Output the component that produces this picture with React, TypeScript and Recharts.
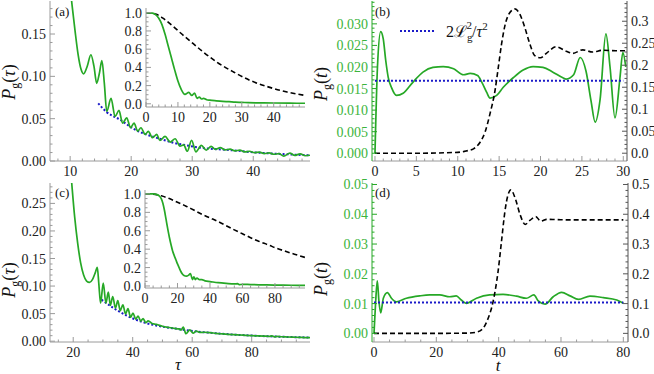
import { LineChart, Line, XAxis, YAxis } from 'recharts';

const FONT = "'Liberation Serif', 'Times New Roman', Times, 'DejaVu Serif', serif";
const GREEN = '#26a826';
const GREEN_TEXT = '#3cb43c';
const BLUE = '#1a1ac8';
const FRAME = '#9a9a9a';
const DARK = '#555555';
const TEXT = '#222222';

// (a) main: P_g(tau) vs tau
const A_GREEN: [number, number][] = [
  [10.0, 0.205], [10.3, 0.185], [10.8, 0.154], [11.3, 0.126], [11.8, 0.108],
  [12.2, 0.103], [12.8, 0.112], [13.4, 0.1255], [13.9, 0.112], [14.35, 0.0918],
  [14.8, 0.104], [15.2, 0.1185], [15.6, 0.092], [16.0, 0.0585], [16.7, 0.074],
  [17.36, 0.0526], [18.0, 0.0597], [18.6, 0.0447], [19.27, 0.051], [19.9, 0.0393],
  [20.47, 0.0447], [21.08, 0.0353], [21.6, 0.0393], [22.3, 0.0314], [22.8, 0.035],
  [23.5, 0.0275], [24.2, 0.0314], [24.7, 0.0243], [25.55, 0.029], [26.4, 0.0224],
  [27.2, 0.0263], [28.0, 0.0175], [28.6, 0.019], [29.2, 0.0115], [29.9, 0.0245],
  [30.6, 0.0108], [31.5, 0.0185], [32.3, 0.0128], [33.1, 0.0172], [33.8, 0.0138],
  [34.6, 0.0158], [35.4, 0.0132], [36.2, 0.014], [37.0, 0.012], [37.8, 0.0128],
  [38.6, 0.0108], [39.4, 0.0115], [40.2, 0.0098], [41.0, 0.0104], [41.8, 0.0088],
  [42.6, 0.0095], [43.4, 0.008], [44.2, 0.0086], [45.0, 0.0058], [46.0, 0.0092],
  [46.8, 0.0066], [47.7, 0.0085], [48.5, 0.0062], [49.3, 0.0068],
];
const A_BLUE: [number, number][] = [
  [14.6, 0.068], [16.0, 0.0577], [18.2, 0.0487], [20.4, 0.038], [22.6, 0.031],
  [24.7, 0.0263], [26.9, 0.0216], [29.1, 0.0185], [31.3, 0.0157], [33.5, 0.0142],
  [36.7, 0.0126], [39.5, 0.0106], [42.2, 0.0092], [44.9, 0.0082], [47.0, 0.0074],
  [49.3, 0.0067],
];
// (a) inset
const AI_GREEN: [number, number][] = [
  [0, 1.0], [2, 0.995], [3, 0.98], [4, 0.94], [5, 0.87], [6, 0.76], [7, 0.63],
  [8, 0.5], [9, 0.37], [10, 0.25], [11, 0.16], [12.2, 0.103], [13.4, 0.125],
  [14.35, 0.092], [15.2, 0.118], [16, 0.06], [16.7, 0.074], [17.4, 0.053],
  [18, 0.06], [19, 0.045], [20, 0.04], [22, 0.033], [24, 0.027], [26, 0.023],
  [28, 0.018], [30, 0.016], [32, 0.013], [35, 0.011], [40, 0.009], [45, 0.007],
  [49.8, 0.006],
];
const AI_BLACK: [number, number][] = [
  [0, 1.0], [3, 0.985], [5.3, 0.94], [8.5, 0.85], [11.6, 0.754], [14.8, 0.66],
  [17.9, 0.57], [22.1, 0.46], [27.4, 0.35], [32.6, 0.257], [37.9, 0.19],
  [44.2, 0.129], [49.8, 0.092],
];

// (b) P_g(t) (left axis) and black dashed (right axis)
const B_GREEN: [number, number][] = [
  [0, 0], [0.3, 0.02], [0.69, 0.0282], [1.0, 0.0265], [1.3, 0.0215], [1.6, 0.0176],
  [2.0, 0.0152], [2.6, 0.0134], [3.4, 0.0139], [4.6, 0.0165], [5.8, 0.0188],
  [7.0, 0.0199], [8.25, 0.0201], [9.5, 0.0196], [10.7, 0.0182], [11.5, 0.0185],
  [12.4, 0.018], [12.9, 0.0165], [13.5, 0.0141], [13.9, 0.0128], [14.7, 0.0134],
  [15.5, 0.0153], [16.7, 0.0175], [17.9, 0.0193], [19.1, 0.0201], [20.3, 0.0199],
  [21.5, 0.0188], [22.7, 0.0175], [23.1, 0.0172], [24.0, 0.0182], [24.8, 0.0222],
  [25.5, 0.019], [26.1, 0.0122], [26.6, 0.0072], [27.2, 0.0125], [27.9, 0.0277],
  [28.4, 0.02], [29.0, 0.0082], [29.6, 0.0175], [29.95, 0.0234], [30.3, 0.02],
];
const B_BLACK: [number, number][] = [
  [0, 0], [5, 0], [10, 0.002], [11, 0.005], [11.9, 0.01], [12.7, 0.025],
  [13.3, 0.048], [13.9, 0.09], [14.5, 0.142], [14.9, 0.195], [15.3, 0.249],
  [15.7, 0.29], [16.3, 0.32], [16.9, 0.328], [17.5, 0.316], [18.1, 0.286],
  [18.7, 0.249], [19.3, 0.222], [20.0, 0.217], [20.7, 0.227], [21.9, 0.242],
  [23.1, 0.232], [23.9, 0.227], [25.1, 0.235], [26.3, 0.23], [27.5, 0.234],
  [29.1, 0.233], [30.3, 0.233],
];
const B_BLUE: [number, number][] = [[0, 0.0168], [30, 0.0168]];

// (c) main
const C_GREEN: [number, number][] = [
  [19.3, 0.3], [19.5, 0.287], [20.5, 0.225], [21.5, 0.178], [22.5, 0.142],
  [23.5, 0.12], [24.5, 0.109], [25.5, 0.1066], [26.5, 0.112], [27.4, 0.124],
  [28.1, 0.134], [28.6, 0.105], [29.2, 0.069], [30.1, 0.1055], [31.0, 0.069],
  [31.8, 0.089], [32.5, 0.065], [33.3, 0.081], [34.2, 0.06], [35.0, 0.0735],
  [35.8, 0.0555], [36.7, 0.066], [37.6, 0.0495], [38.4, 0.059], [39.3, 0.0434],
  [40.1, 0.051], [41.0, 0.04], [41.8, 0.0455], [42.7, 0.0365], [43.5, 0.041],
  [44.4, 0.0335], [45.2, 0.037], [46.5, 0.032], [48, 0.0305], [50, 0.027],
  [52, 0.025], [54, 0.0232], [55.5, 0.0222], [56.3, 0.0205], [57.0, 0.0255],
  [57.9, 0.0135], [59.2, 0.0205], [60.3, 0.0145], [61.4, 0.0185], [62.5, 0.016],
  [64, 0.0162], [66, 0.0155], [68, 0.0142], [70, 0.0133], [72, 0.0125],
  [74, 0.0118], [76, 0.0112], [78, 0.0105], [80, 0.01], [82, 0.0096],
  [84, 0.0092], [86, 0.0087], [86.8, 0.0097], [87.6, 0.0079], [88.5, 0.0088],
  [90, 0.008], [92, 0.0076], [94, 0.0072], [96, 0.0069], [98, 0.0066], [99.6, 0.0064],
];
const C_BLUE: [number, number][] = [
  [29.5, 0.0753], [33.5, 0.0603], [38, 0.0464], [43.5, 0.0343], [49.2, 0.0271],
  [54.8, 0.0224], [60.4, 0.0181], [66, 0.0152], [75, 0.0116], [85, 0.009],
  [92, 0.0077], [99.6, 0.0066],
];
// (c) inset
const CI_GREEN: [number, number][] = [
  [0, 1], [5, 1], [7, 0.995], [9, 0.975], [10, 0.95], [11, 0.9], [12, 0.82],
  [13, 0.72], [14, 0.62], [15, 0.53], [16, 0.45], [17, 0.38], [18, 0.33],
  [19, 0.285], [20, 0.24], [21, 0.2], [22, 0.16], [23, 0.13], [24, 0.114],
  [25.5, 0.107], [26.7, 0.115], [28, 0.134], [29.2, 0.07], [30.1, 0.1],
  [31, 0.07], [32, 0.085], [33.5, 0.068], [35, 0.068], [37, 0.055], [40, 0.048],
  [45, 0.036], [50, 0.028], [55, 0.022], [57, 0.025], [58, 0.014], [60, 0.018],
  [65, 0.015], [70, 0.013], [75, 0.011], [80, 0.01], [90, 0.008], [98.5, 0.0065],
];
const CI_BLACK: [number, number][] = [
  [0, 1.0], [5, 0.998], [10, 0.98], [15, 0.95], [20, 0.91], [25, 0.87],
  [30, 0.825], [35, 0.78], [40, 0.74], [45, 0.7], [50, 0.655], [55, 0.61],
  [60, 0.567], [65, 0.525], [70, 0.486], [76, 0.446], [81, 0.41], [86, 0.38],
  [92, 0.345], [98.5, 0.31],
];

// (d)
const D_GREEN: [number, number][] = [
  [0, 0], [0.5, 0.01], [1.06, 0.0176], [1.6, 0.0106], [2.15, 0.0069], [3.0, 0.0118],
  [4.3, 0.0137], [5.6, 0.0118], [7.2, 0.0106], [10.4, 0.0118], [14.7, 0.0126],
  [17.9, 0.0129], [21.1, 0.0129], [24.3, 0.0123], [26.4, 0.0126], [28.0, 0.0112],
  [29.6, 0.0101], [32.9, 0.0118], [37.1, 0.0129], [41.4, 0.0131], [45.7, 0.0125],
  [48.9, 0.0118], [51.3, 0.0129], [52.7, 0.0109], [54.9, 0.0098], [57.5, 0.0123],
  [60.2, 0.0138], [62.9, 0.0126], [65.6, 0.0114], [69.3, 0.0125], [73.6, 0.012],
  [77.9, 0.0112], [80, 0.0101],
];
const D_BLACK: [number, number][] = [
  [0, 0], [20, 0], [30, 0.001], [32.9, 0.004], [35, 0.017], [36.6, 0.05],
  [38.2, 0.106], [39.8, 0.207], [40.9, 0.308], [42.0, 0.409], [43.0, 0.465],
  [43.9, 0.482], [45.3, 0.454], [46.9, 0.398], [48.5, 0.366], [50.1, 0.38],
  [51.9, 0.392], [53.5, 0.377], [55.4, 0.383], [58.6, 0.382], [62.9, 0.381],
  [71.4, 0.381], [80, 0.381],
];
const D_BLUE: [number, number][] = [[0, 0.0104], [80, 0.0104]];

// tick values
const range = (from: number, to: number, step: number) => {
  const out: number[] = [];
  for (let i = 0; from + i * step <= to + 1e-9; i++) out.push(+(from + i * step).toFixed(6));
  return out;
};

const toPts = (pairs: [number, number][]) => pairs.map(([x, y]) => ({ x, y }));

const fix = (n: number) => (v: number) => v.toFixed(n);
const int = (v: number) => String(Math.round(v));
const shortFmt = (v: number) => (v === 0 ? '0.0' : String(+v.toFixed(2)));

function FrameTick(props: any) {
  const { x, y, payload, side, majors, color, fmt, textColor } = props;
  const v = payload.value;
  const major = majors.some((m: number) => Math.abs(m - v) < 1e-7);
  const len = major ? 5 : 2.5;
  let dx = 0;
  let dy = 0;
  if (side === 'bottom') dy = -len;
  if (side === 'top') dy = len;
  if (side === 'left') dx = len;
  if (side === 'right') dx = -len;

  let label = null;
  if (major && fmt) {
    const common = { fill: textColor || TEXT, fontSize: 14, fontFamily: FONT };
    if (side === 'bottom')
      label = (
        <text x={x} y={y + 15} textAnchor="middle" {...common}>
          {fmt(v)}
        </text>
      );
    if (side === 'left')
      label = (
        <text x={x - 4} y={y + 5} textAnchor="end" {...common}>
          {fmt(v)}
        </text>
      );
    if (side === 'right')
      label = (
        <text x={x + 4} y={y + 5} textAnchor="start" {...common}>
          {fmt(v)}
        </text>
      );
  }
  return (
    <g>
      <line x1={x} y1={y} x2={x + dx} y2={y + dy} stroke={color} strokeWidth={1} />
      {label}
    </g>
  );
}

type AxisSpec = {
  domain: [number, number];
  ticks: number[];
  majors: number[];
  fmt?: (v: number) => string;
  color?: string;
  textColor?: string;
  size?: number;
};

function xAxes(s: AxisSpec) {
  const common = {
    type: 'number' as const,
    dataKey: 'x',
    domain: s.domain,
    ticks: s.ticks,
    interval: 0 as const,
    allowDataOverflow: true,
    tickLine: false,
    tickSize: 0,
    tickMargin: 0,
    axisLine: { stroke: FRAME },
  };
  return [
    <XAxis
      key="xb"
      xAxisId={0}
      height={24}
      {...common}
      tick={<FrameTick side="bottom" majors={s.majors} fmt={s.fmt} color={FRAME} />}
    />,
    <XAxis
      key="xt"
      xAxisId="top"
      orientation="top"
      height={0}
      {...common}
      tick={<FrameTick side="top" majors={s.majors} color={FRAME} />}
    />,
  ];
}

function yAxis(id: string, side: 'left' | 'right', s: AxisSpec) {
  const color = s.color || FRAME;
  return (
    <YAxis
      key={id}
      yAxisId={id}
      orientation={side}
      width={s.size ?? 0}
      type="number"
      domain={s.domain}
      ticks={s.ticks}
      interval={0}
      allowDataOverflow
      tickLine={false}
      tickSize={0}
      tickMargin={0}
      axisLine={{ stroke: color }}
      tick={
        <FrameTick
          side={side}
          majors={s.majors}
          fmt={s.fmt}
          color={color}
          textColor={s.textColor}
        />
      }
    />
  );
}

function greenLine(data: [number, number][], yId = 'L') {
  return (
    <Line
      data={toPts(data)}
      dataKey="y"
      xAxisId={0}
      yAxisId={yId}
      type="monotone"
      stroke={GREEN}
      strokeWidth={1.7}
      dot={false}
      isAnimationActive={false}
    />
  );
}

function blueLine(data: [number, number][], yId = 'L') {
  return (
    <Line
      data={toPts(data)}
      dataKey="y"
      xAxisId={0}
      yAxisId={yId}
      type="monotone"
      stroke={BLUE}
      strokeWidth={2}
      strokeDasharray="2 2"
      dot={false}
      isAnimationActive={false}
    />
  );
}

function blackLine(data: [number, number][], yId = 'L') {
  return (
    <Line
      data={toPts(data)}
      dataKey="y"
      xAxisId={0}
      yAxisId={yId}
      type="monotone"
      stroke="#000"
      strokeWidth={1.6}
      strokeDasharray="5 3"
      dot={false}
      isAnimationActive={false}
    />
  );
}

const A_X = { domain: [6.7, 49.3] as [number, number], ticks: range(8, 48, 2), majors: [10, 20, 30, 40], fmt: int };
const A_Y = { domain: [0, 0.189] as [number, number], ticks: range(0, 0.18, 0.01), majors: [0, 0.05, 0.1, 0.15] };
const AI_X = { domain: [0, 49.8] as [number, number], ticks: range(0, 48, 2), majors: [0, 10, 20, 30, 40], fmt: int };
const AI_Y = { domain: [-0.035, 1.052] as [number, number], ticks: range(0, 1, 0.05), majors: range(0, 1, 0.2) };
const C_X = { domain: [12.2, 99.6] as [number, number], ticks: range(15, 95, 5), majors: [20, 40, 60, 80], fmt: int };
const C_Y = { domain: [-0.0015, 0.287] as [number, number], ticks: range(0, 0.28, 0.01), majors: range(0, 0.25, 0.05) };
const CI_X = { domain: [0, 98.5] as [number, number], ticks: range(0, 95, 5), majors: [0, 20, 40, 60, 80], fmt: int };
const CI_Y = { domain: [-0.022, 1.043] as [number, number], ticks: range(0, 1, 0.05), majors: range(0, 1, 0.2) };
const B_X = { domain: [-0.36, 30.45] as [number, number], ticks: range(0, 30, 1), majors: range(0, 30, 5), fmt: int };
const B_L = { domain: [-0.0018, 0.0353] as [number, number], ticks: range(0, 0.035, 0.001), majors: range(0, 0.03, 0.005) };
const B_R = { domain: [-0.0177, 0.346] as [number, number], ticks: range(0, 0.34, 0.01), majors: range(0, 0.3, 0.05) };
const D_X = { domain: [-0.64, 81.5] as [number, number], ticks: range(0, 80, 5), majors: range(0, 80, 20), fmt: int };
const D_L = { domain: [-0.0029, 0.0505] as [number, number], ticks: range(0, 0.05, 0.002), majors: range(0, 0.05, 0.01) };
const D_R = { domain: [-0.029, 0.505] as [number, number], ticks: range(0, 0.5, 0.02), majors: range(0, 0.5, 0.1) };

const abs = (left: number, top: number): React.CSSProperties => ({ position: 'absolute', left, top });

function YLabel({ x, y, v }: { x: number; y: number; v: string }) {
  return (
    <text transform={`translate(${x},${y}) rotate(-90)`} textAnchor="middle" fontSize={18} fontFamily={FONT} fill="#111">
      <tspan fontStyle="italic">P</tspan>
      <tspan fontSize={12} dy={4}>g</tspan>
      <tspan dy={-4}>(</tspan>
      <tspan fontStyle="italic">{v}</tspan>
      <tspan>)</tspan>
    </text>
  );
}

export default function App() {
  return (
    <div style={{ position: 'absolute', left: 0, top: 0, width: 654, height: 374, background: '#fff', fontFamily: FONT }}>
      {/* (a) */}
      <div style={abs(0, 0)}>
        <LineChart width={330} height={185} margin={{ top: 1, right: 20, bottom: 0, left: 0 }}>
          {xAxes(A_X)}
          {yAxis('L', 'left', { ...A_Y, fmt: fix(2), size: 50 })}
          {yAxis('R', 'right', A_Y)}
          {blueLine(A_BLUE)}
          {greenLine(A_GREEN)}
        </LineChart>
      </div>
      {/* (b) */}
      <div style={abs(330, 0)}>
        <LineChart width={324} height={185} margin={{ top: 1, right: 0, bottom: 0, left: 0 }}>
          {xAxes(B_X)}
          {yAxis('L', 'left', { ...B_L, fmt: fix(3), size: 42, color: GREEN, textColor: GREEN_TEXT })}
          {yAxis('R', 'right', { ...B_R, fmt: shortFmt, size: 27, color: DARK })}
          {greenLine(B_GREEN)}
          {blueLine(B_BLUE)}
          {blackLine(B_BLACK, 'R')}
        </LineChart>
      </div>
      {/* (c) */}
      <div style={abs(0, 170)}>
        <LineChart width={330} height={196} margin={{ top: 13, right: 20, bottom: 0, left: 0 }}>
          {xAxes(C_X)}
          {yAxis('L', 'left', { ...C_Y, fmt: fix(2), size: 50 })}
          {yAxis('R', 'right', C_Y)}
          {blueLine(C_BLUE)}
          {greenLine(C_GREEN)}
        </LineChart>
      </div>
      {/* (d) */}
      <div style={abs(330, 170)}>
        <LineChart width={324} height={196} margin={{ top: 13, right: 0, bottom: 0, left: 0 }}>
          {xAxes(D_X)}
          {yAxis('L', 'left', { ...D_L, fmt: fix(2), size: 42, color: GREEN, textColor: GREEN_TEXT })}
          {yAxis('R', 'right', { ...D_R, fmt: shortFmt, size: 26, color: DARK })}
          {greenLine(D_GREEN)}
          {blueLine(D_BLUE)}
          {blackLine(D_BLACK, 'R')}
        </LineChart>
      </div>
      {/* inset (a) */}
      <div style={abs(100, 0)}>
        <LineChart width={210} height={131} margin={{ top: 8, right: 5, bottom: 0, left: 0 }}>
          {xAxes(AI_X)}
          {yAxis('L', 'left', { ...AI_Y, fmt: fix(1), size: 46 })}
          {yAxis('R', 'right', AI_Y)}
          {blackLine(AI_BLACK)}
          {greenLine(AI_GREEN)}
        </LineChart>
      </div>
      {/* inset (c) */}
      <div style={abs(100, 182)}>
        <LineChart width={210} height={130} margin={{ top: 8, right: 5, bottom: 0, left: 0 }}>
          {xAxes(CI_X)}
          {yAxis('L', 'left', { ...CI_Y, fmt: fix(1), size: 45 })}
          {yAxis('R', 'right', CI_Y)}
          {blackLine(CI_BLACK)}
          {greenLine(CI_GREEN)}
        </LineChart>
      </div>
      {/* labels */}
      <svg width={654} height={374} style={{ position: 'absolute', left: 0, top: 0, pointerEvents: 'none' }}>
        <g fontFamily={FONT} fontSize={13} fill="#111">
          <text x={55} y={16}>(a)</text>
          <text x={375} y={16}>(b)</text>
          <text x={55} y={197}>(c)</text>
          <text x={375} y={197}>(d)</text>
        </g>
        <YLabel x={15} y={82} v="τ" />
        <YLabel x={15} y={280} v="τ" />
        <YLabel x={327} y={84} v="t" />
        <YLabel x={327} y={279} v="t" />
        <text x={178} y={370} textAnchor="middle" fontSize={17} fontStyle="italic" fontFamily={FONT} fill="#111">τ</text>
        <text x={498} y={371} textAnchor="middle" fontSize={17} fontStyle="italic" fontFamily={FONT} fill="#111">t</text>
        <line x1={400} y1={31} x2={436} y2={31} stroke={BLUE} strokeWidth={2} strokeDasharray="2 2" />
        <text x={446} y={37} fontSize={16} fontFamily={FONT} fill="#111">
          2ℒ
          <tspan fontSize={11} dy={4}>g</tspan>
          <tspan fontSize={11} dx={-6} dy={-12}>2</tspan>
          <tspan dy={8}>/</tspan>
          <tspan fontStyle="italic">τ</tspan>
          <tspan fontSize={11} dy={-7}>2</tspan>
        </text>
      </svg>
    </div>
  );
}
